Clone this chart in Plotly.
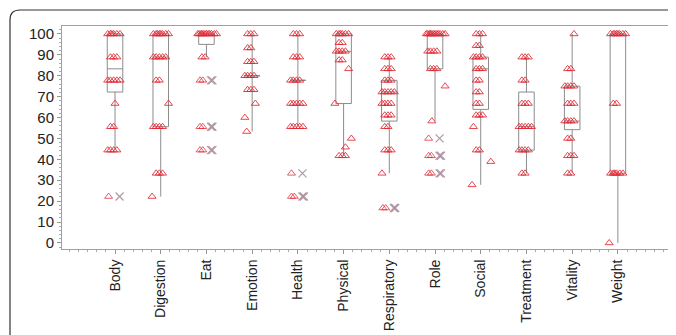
import plotly.graph_objects as go

categories = ["Body", "Digestion", "Eat", "Emotion", "Health", "Physical",
              "Respiratory", "Role", "Social", "Treatment", "Vitality", "Weight"]

# observed score levels and how many patients sit at each level (per domain)
body_vals = [100, 88.9, 77.8, 66.7, 55.6, 44.4]
body_counts = [6, 3, 5, 1, 2, 4]
digestion_vals = [100, 88.9, 77.8, 66.7, 55.6, 33.3, 22.2]
digestion_counts = [8, 5, 2, 1, 4, 3, 1]
eat_vals = [100, 88.9]
eat_counts = [12, 2]
emotion_vals = [100, 93.3, 86.7, 80, 73.3, 66.7, 60, 53.3]
emotion_counts = [3, 2, 3, 4, 3, 1, 1, 1]
health_vals = [100, 88.9, 77.8, 66.7, 55.6]
health_counts = [3, 3, 4, 5, 5]
physical_vals = [100, 95.8, 91.7, 87.5, 83.3, 66.7, 50, 45.8, 41.7]
physical_counts = [6, 2, 4, 2, 1, 1, 1, 1, 3]
respiratory_vals = [88.9, 83.3, 77.8, 72.2, 66.7, 61.1, 55.6, 44.4, 33.3]
respiratory_counts = [3, 3, 3, 5, 4, 3, 2, 3, 1]
role_vals = [100, 91.7, 83.3, 75, 58.3]
role_counts = [12, 4, 3, 1, 1]
social_vals = [100, 94.4, 88.9, 83.3, 77.8, 72.2, 66.7, 61.1, 55.6, 44.4, 38.9, 27.8]
social_counts = [3, 2, 4, 3, 2, 2, 2, 3, 1, 2, 1, 1]
treatment_vals = [88.9, 77.8, 66.7, 55.6, 44.4, 33.3]
treatment_counts = [3, 2, 3, 5, 4, 2]
vitality_vals = [100, 83.3, 75, 66.7, 58.3, 50, 41.7, 33.3]
vitality_counts = [1, 2, 4, 3, 4, 2, 3, 2]
weight_vals = [100, 66.7, 33.3, 0]
weight_counts = [8, 2, 6, 1]

# outliers (drawn as a triangle plus an x)
outlier_cat = ["Body", "Eat", "Eat", "Eat", "Eat", "Eat", "Eat", "Health", "Health",
               "Health", "Respiratory", "Respiratory", "Role", "Role", "Role", "Role", "Role"]
outlier_val = [22.2, 77.8, 77.8, 55.6, 55.6, 44.4, 44.4, 33.3, 22.2,
               22.2, 16.7, 16.7, 50, 41.7, 41.7, 33.3, 33.3]

# box statistics
box_q1 = [72.2, 55.6, 95.0, 80.0, 77.8, 66.7, 58.3, 83.3, 63.9, 44.4, 54.2, 33.3]
box_median = [83.3, 88.9, 100, 80.0, 77.8, 91.7, 72.2, 100, 83.3, 55.6, 58.3, 100]
box_q3 = [100, 100, 100, 80.0, 77.8, 100, 77.8, 100, 88.9, 72.2, 75.0, 100]
box_low = [44.4, 22.2, 88.9, 53.3, 55.6, 41.7, 33.3, 58.3, 27.8, 33.3, 33.3, 0]
box_high = [100, 100, 100, 100, 100, 100, 88.9, 100, 100, 88.9, 100, 100]

yticks = [0, 10, 20, 30, 40, 50, 60, 70, 80, 90, 100]

series = [
    (body_vals, body_counts), (digestion_vals, digestion_counts), (eat_vals, eat_counts),
    (emotion_vals, emotion_counts), (health_vals, health_counts),
    (physical_vals, physical_counts), (respiratory_vals, respiratory_counts),
    (role_vals, role_counts), (social_vals, social_counts),
    (treatment_vals, treatment_counts), (vitality_vals, vitality_counts),
    (weight_vals, weight_counts),
]

# deterministic horizontal spread for overlapping points
PAT = [-0.1, -0.03, 0.04, -0.16, 0.11, -0.07, 0.0, 0.17, -0.12, 0.07, 0.22, -0.19]

tri_x, tri_y = [], []
for i, (vals, counts) in enumerate(series):
    for v, c in zip(vals, counts):
        for k in range(c):
            off = PAT[k % len(PAT)] if c > 1 else PAT[(i + int(v)) % len(PAT)]
            tri_x.append(i + off)
            tri_y.append(v)

ox_tri, ox_x = [], []
seen = {}
for cname, v in zip(outlier_cat, outlier_val):
    i = categories.index(cname)
    k = seen.get((cname, v), 0)
    seen[(cname, v)] = k + 1
    ox_tri.append(i - 0.14 + 0.06 * k)
    ox_x.append(i + 0.1 + 0.03 * k)

fig = go.Figure()

fig.add_trace(go.Box(
    x=list(range(len(categories))), q1=box_q1, median=box_median, q3=box_q3,
    lowerfence=box_low, upperfence=box_high, width=0.34,
    line=dict(color="rgb(140,140,140)", width=1),
    fillcolor="rgba(0,0,0,0)", boxpoints=False, whiskerwidth=0,
    showlegend=False, hoverinfo="skip"))

fig.add_trace(go.Scatter(
    x=tri_x, y=tri_y, mode="markers",
    marker=dict(symbol="triangle-up-open", size=7, color="rgba(225,40,50,0.85)",
                line=dict(width=1)),
    showlegend=False))

fig.add_trace(go.Scatter(
    x=ox_tri, y=outlier_val, mode="markers",
    marker=dict(symbol="triangle-up-open", size=7, color="rgba(225,40,50,0.75)",
                line=dict(width=1)),
    showlegend=False))

fig.add_trace(go.Scatter(
    x=ox_x, y=outlier_val, mode="markers",
    marker=dict(symbol="x-thin-open", size=8, color="rgba(170,140,155,0.9)",
                line=dict(width=1.2)),
    showlegend=False))

# page has an 8px body margin, so figure coordinates are page coordinates minus 8
L, R, T, B = 54, 14, 18, 94
W, H = 676, 335
pw, ph = W - L - R, H - T - B


def px(x):
    return (x - L) / pw


def py(y):
    return (H - B - y) / ph


border = (f"M {px(2)},{py(345)} L {px(2)},{py(12)} "
          f"Q {px(2)},{py(2)} {px(12)},{py(2)} L {px(690)},{py(2)}")

fig.update_layout(
    width=W, height=H, margin=dict(l=L, r=R, t=T, b=B),
    paper_bgcolor="white", plot_bgcolor="white",
    font=dict(family="Liberation Sans, Arial, sans-serif", size=13, color="#222"),
    shapes=[dict(type="path", xref="paper", yref="paper", path=border,
                 line=dict(color="#333", width=1.2))],
    xaxis=dict(range=[-1.16, 12.14], tickvals=list(range(len(categories))),
               ticktext=categories, tickangle=-90, showgrid=False, zeroline=False,
               showline=True, mirror=True, linecolor="rgb(160,160,160)", linewidth=1,
               ticks="outside", ticklen=4, tickcolor="rgb(150,150,150)",
               minor=dict(dtick=0.2, tick0=0, ticks="outside", ticklen=2,
                          tickcolor="rgb(170,170,170)"),
               automargin=False, tickfont=dict(size=14)),
    yaxis=dict(range=[-2.9, 103.8], tickvals=yticks, showgrid=False, zeroline=False,
               showline=True, mirror=True, linecolor="rgb(160,160,160)", linewidth=1,
               ticks="outside", ticklen=4, tickcolor="rgb(150,150,150)",
               minor=dict(dtick=2, ticks="outside", ticklen=2,
                          tickcolor="rgb(170,170,170)"),
               automargin=False, tickfont=dict(size=15)),
)

fig.write_html("out.html")
